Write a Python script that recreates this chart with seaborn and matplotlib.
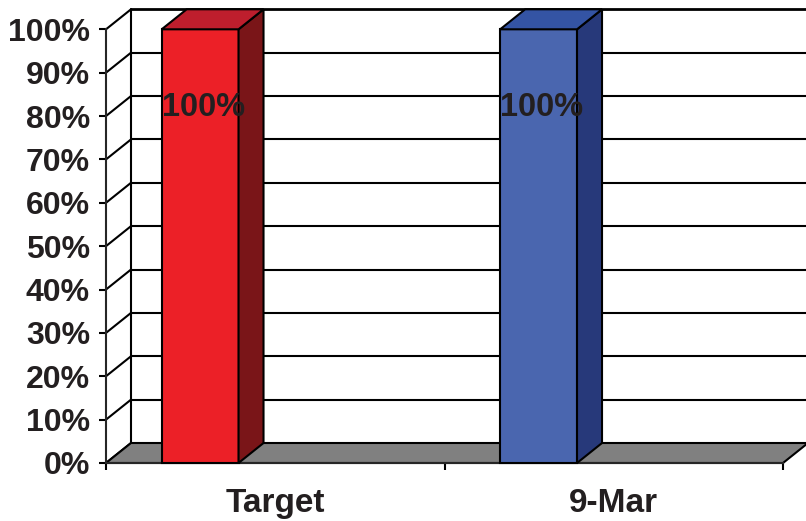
import numpy as np
import pandas as pd
import seaborn as sns
import matplotlib.pyplot as plt
from matplotlib.patches import Polygon

# chart data
categories = ['Target', '9-Mar']
values = [100, 100]
labels = ['100%', '100%']
front_colors = ['#EC2027', '#4A66AF']
side_colors = ['#7A1518', '#27397A']
top_colors = ['#BE1E2D', '#3454A4']
y_ticks = list(range(0, 101, 10))

sns.set_style('ticks')
plt.rcParams['font.family'] = ['Liberation Sans', 'DejaVu Sans']
plt.rcParams['font.weight'] = 'bold'
txt = '#231F20'

df = pd.DataFrame({'cat': categories, 'val': values})

fig = plt.figure(figsize=(8.06, 5.21), dpi=100)
ax = fig.add_axes([106 / 806, 58 / 521, 677 / 806, 433.7 / 521])

# depth offset of the 3d look, in data units
dx = 25 / 338.5
dy = 20 / 4.337
lw = 1.5

sns.barplot(data=df, x='cat', y='val', hue='cat', palette=front_colors,
            saturation=1, width=0.227, legend=False, ax=ax,
            edgecolor='black', linewidth=lw, zorder=5)
ax.set_xlim(-0.5, 1.5)
ax.set_ylim(0, 100)

# back wall gridlines and side wall diagonals
for v in y_ticks:
    if v > 0:
        ax.plot([-0.5 + dx, 1.5 + dx + 0.1], [v + dy, v + dy], color='black',
                lw=2 if v == 100 else lw, clip_on=False, zorder=1)
    ax.plot([-0.5, -0.5 + dx], [v, v + dy], color='black', lw=lw,
            clip_on=False, zorder=1)
ax.plot([-0.5 + dx, -0.5 + dx], [dy, 100 + dy], color='black', lw=lw,
        clip_on=False, zorder=1)

# floor
floor = Polygon([(-0.5, 0), (1.5, 0), (1.5 + dx, dy), (-0.5 + dx, dy)],
                closed=True, facecolor='#808080', edgecolor='black', lw=lw,
                clip_on=False, zorder=2)
ax.add_patch(floor)

# bars: shift off the category centre, add side and top faces
for i, p in enumerate(ax.patches[:len(categories)]):
    p.set_x(p.get_x() - 0.222)
    x0, w, h = p.get_x(), p.get_width(), p.get_height()
    side = Polygon([(x0 + w, 0), (x0 + w + dx, dy), (x0 + w + dx, h + dy), (x0 + w, h)],
                   closed=True, facecolor=side_colors[i], edgecolor='black',
                   lw=lw, clip_on=False, zorder=5)
    top = Polygon([(x0, h), (x0 + dx, h + dy), (x0 + w + dx, h + dy), (x0 + w, h)],
                  closed=True, facecolor=top_colors[i], edgecolor='black',
                  lw=lw, clip_on=False, zorder=5)
    ax.add_patch(side)
    ax.add_patch(top)
    p.set_clip_on(False)
    ax.text(x0 + w / 2 + 0.01, 82, labels[i], ha='center', va='center',
            fontsize=23.5, fontweight='bold', color=txt, zorder=6)

# axes and ticks
sns.despine(ax=ax, top=True, right=True)
ax.spines['left'].set_linewidth(lw)
ax.spines['bottom'].set_linewidth(lw)
ax.spines['bottom'].set_zorder(3)
ax.set_yticks(y_ticks)
ax.set_yticklabels([f'{v}%' for v in y_ticks])
ax.set_xticks([-0.5, 0.5, 1.5])
ax.set_xticklabels([])
ax.set_xticks([0, 1], minor=True)
ax.set_xticklabels(categories, minor=True)
ax.tick_params(axis='both', which='major', direction='out', length=5,
               width=lw, color='black', labelsize=23, labelcolor=txt, pad=6.5)
ax.tick_params(axis='x', which='minor', length=0, labelsize=24,
               labelcolor=txt, pad=18)
ax.set_xlabel('')
ax.set_ylabel('')
for t in ax.get_yticklabels() + ax.get_xticklabels(minor=True):
    t.set_fontweight('bold')

fig.savefig('out.png', dpi=100)
